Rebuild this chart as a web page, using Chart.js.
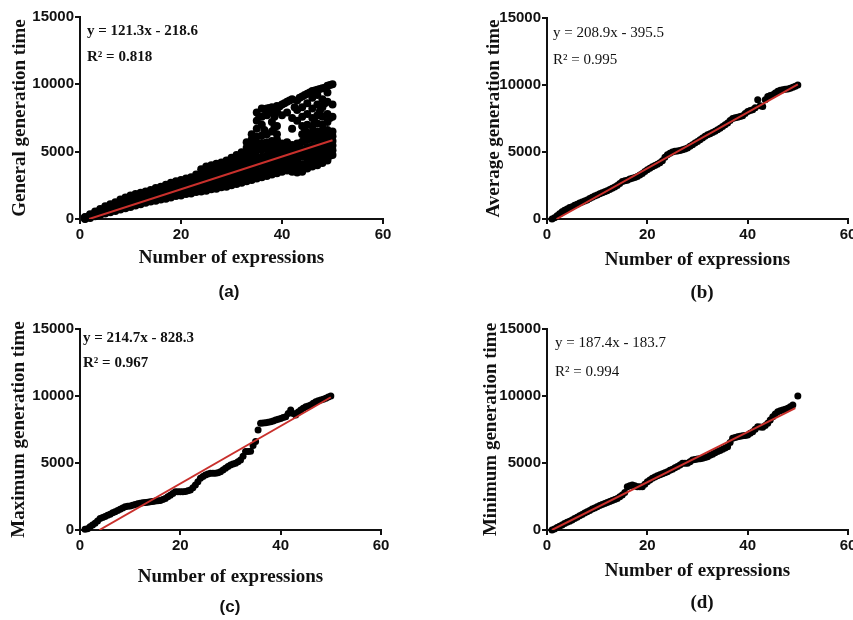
<!DOCTYPE html>
<html>
<head>
<meta charset="utf-8">
<script src="https://cdn.jsdelivr.net/npm/chart.js@4.4.0/dist/chart.umd.min.js"></script>
<style>
    body { margin: 0; width: 853px; height: 620px; overflow: hidden; background: #fff; position: relative; }
    canvas { position: absolute; }
    .tag { position: absolute; transform: translate(-50%, -50%); color: #111; white-space: nowrap; }
    .tag.sans { font: bold 17px 'Liberation Sans', Arial, sans-serif; }
    .tag.serif { font: bold 19px 'Liberation Serif', 'Times New Roman', serif; }
</style>
</head>
<body>
<canvas id="chartA" width="427" height="300" style="left:0;top:0"></canvas>
<canvas id="chartB" width="400" height="300" style="left:467px;top:0"></canvas>
<canvas id="chartC" width="427" height="320" style="left:0;top:300px"></canvas>
<canvas id="chartD" width="400" height="320" style="left:467px;top:300px"></canvas>
<div class="tag sans" style="left:229px;top:292px">(a)</div>
<div class="tag serif" style="left:702px;top:292px">(b)</div>
<div class="tag sans" style="left:230px;top:607px">(c)</div>
<div class="tag serif" style="left:702px;top:602px">(d)</div>
<script>
// --- Data ---
// x values for panels (b), (c), (d)
const exprSteps = [1, 1.5, 2, 2.5, 3, 3.5, 4, 4.5, 5, 5.5, 6, 6.5, 7, 7.5, 8, 8.5, 9, 9.5, 10, 10.5,
    11, 11.5, 12, 12.5, 13, 13.5, 14, 14.5, 15, 15.5, 16, 16.5, 17, 17.5, 18, 18.5, 19, 19.5, 20, 20.5,
    21, 21.5, 22, 22.5, 23, 23.5, 24, 24.5, 25, 25.5, 26, 26.5, 27, 27.5, 28, 28.5, 29, 29.5, 30, 30.5,
    31, 31.5, 32, 32.5, 33, 33.5, 34, 34.5, 35, 35.5, 36, 36.5, 37, 37.5, 38, 38.5, 39, 39.5, 40, 40.5,
    41, 41.5, 42, 42.5, 43, 43.5, 44, 44.5, 45, 45.5, 46, 46.5, 47, 47.5, 48, 48.5, 49, 49.5, 50];

// x values for panel (a)
const exprWhole = [1, 2, 3, 4, 5, 6, 7, 8, 9, 10, 11, 12, 13, 14, 15, 16, 17, 18, 19, 20,
    21, 22, 23, 24, 25, 26, 27, 28, 29, 30, 31, 32, 33, 34, 35, 36, 37, 38, 39, 40,
    41, 42, 43, 44, 45, 46, 47, 48, 49, 50];

// (a) general generation time: dense band, bottom to top
const genBand1 = [0, 80, 200, 300, 400, 500, 600, 700, 800, 900, 1000, 1100, 1200, 1300, 1350, 1450, 1500, 1600, 1700, 1750,
    1850, 1900, 2000, 2050, 2100, 2200, 2250, 2350, 2400, 2500, 2600, 2700, 2800, 2900, 3000, 3100, 3200, 3300, 3400, 3500,
    3600, 3500, 3450, 3500, 3750, 3900, 4000, 4150, 4350, 4750];
const genBand2 = [30, 134, 270, 390, 510, 620, 730, 850, 960, 1070, 1170, 1270, 1370, 1470, 1540, 1640, 1710, 1820, 1920, 1980,
    2080, 2140, 2260, 2380, 2460, 2560, 2620, 2720, 2790, 2910, 3030, 3150, 3300, 3410, 3520, 3610, 3700, 3800, 3900, 3920,
    4020, 3900, 3880, 4060, 4280, 4410, 4500, 4630, 4800, 5100];
const genBand3 = [60, 188, 340, 480, 620, 740, 860, 1000, 1120, 1240, 1340, 1440, 1540, 1640, 1730, 1830, 1920, 2040, 2140, 2210,
    2310, 2380, 2520, 2710, 2820, 2920, 2990, 3090, 3180, 3320, 3460, 3600, 3800, 3920, 4040, 4120, 4200, 4300, 4400, 4340,
    4440, 4300, 4310, 4620, 4810, 4920, 5000, 5110, 5250, 5450];
const genBand4 = [90, 242, 410, 570, 730, 860, 990, 1150, 1280, 1410, 1510, 1610, 1710, 1810, 1920, 2020, 2130, 2260, 2360, 2440,
    2540, 2620, 2780, 3040, 3180, 3280, 3360, 3460, 3570, 3730, 3890, 4050, 4300, 4430, 4560, 4630, 4700, 4800, 4900, 4760,
    4860, 4700, 4740, 5180, 5340, 5430, 5500, 5590, 5700, 5800];
const genBand5 = [120, 296, 480, 660, 840, 980, 1120, 1300, 1440, 1580, 1680, 1780, 1880, 1980, 2110, 2210, 2340, 2480, 2580, 2670,
    2770, 2860, 3040, 3370, 3540, 3640, 3730, 3830, 3960, 4140, 4320, 4500, 4800, 4940, 5080, 5140, 5200, 5300, 5400, 5180,
    5280, 5100, 5170, 5740, 5870, 5940, 6000, 6070, 6150, 6150];
const genBand6 = [150, 350, 550, 750, 950, 1100, 1250, 1450, 1600, 1750, 1850, 1950, 2050, 2150, 2300, 2400, 2550, 2700, 2800, 2900,
    3000, 3100, 3300, 3700, 3900, 4000, 4100, 4200, 4350, 4550, 4750, 4950, 5300, 5450, 5600, 5650, 5700, 5800, 5900, 5600,
    5700, 5500, 5600, 6300, 6400, 6450, 6500, 6550, 6600, 6500];
// (a) extra runs between the whole-number columns (x + 0.5)
const genHalfX = [24.5, 25.5, 26.5, 27.5, 28.5, 29.5, 30.5, 31.5, 32.5, 33.5, 34.5, 35.5, 36.5, 37.5, 38.5, 39.5,
    40.5, 41.5, 42.5, 43.5, 44.5, 45.5, 46.5, 47.5, 48.5, 49.5];
const genHalfLow = [2300, 2350, 2450, 2500, 2600, 2650, 2750, 2850, 2950, 3050, 3150, 3250, 3350, 3450, 3550, 3650,
    3750, 3800, 3700, 3650, 3800, 4000, 4150, 4250, 4450, 4700];
const genHalfMid = [3000, 3100, 3250, 3300, 3400, 3500, 3650, 3800, 3950, 4100, 4250, 4350, 4450, 4550, 4650, 4700,
    4750, 4800, 4750, 4800, 5000, 5100, 5200, 5300, 5450, 5550];
const genHalfHigh = [3550, 3750, 3850, 3950, 4050, 4250, 4450, 4650, 4900, 5100, 5300, 5450, 5500, 5550, 5600, 5550,
    5450, 5400, 5350, 5600, 5950, 6100, 6200, 6250, 6300, 6350];
// (a) scattered upper cluster
const genUpper = [[33, 5700], [34, 5900], [34, 6300],
    [35, 6100], [35, 6700], [35, 7300], [35, 7900],
    [36, 6200], [36, 7000], [36, 7600], [36, 8200],
    [37, 6300], [37, 7700], [37, 8200],
    [38, 6500], [38, 7200], [38, 7900], [38, 8300],
    [39, 6300], [39, 6900], [39, 8000], [39, 8400],
    [40, 7700], [40, 8500], [41, 7900], [41, 8700],
    [42, 6700], [42, 7500], [42, 8900],
    [43, 7300], [43, 8100], [43, 8800],
    [44, 6900], [44, 7600], [44, 8300], [44, 9100],
    [45, 7000], [45, 7800], [45, 8600], [45, 9300],
    [46, 6900], [46, 7500], [46, 8200], [46, 9000], [46, 9500],
    [47, 7100], [47, 7700], [47, 8500], [47, 9200], [47, 9600],
    [48, 7000], [48, 7600], [48, 8300], [48, 8900], [48, 9700],
    [49, 7200], [49, 7800], [49, 8700], [49, 9400], [49, 9900],
    [50, 7600], [50, 8500], [50, 10000],
    [35.5, 7600], [36.5, 8150], [37.5, 8250], [38.5, 7600], [39.5, 8350], [40.5, 8600],
    [41.5, 8800], [42.5, 8300], [43.5, 9000], [44.5, 9200], [45.5, 9400], [46.5, 9550],
    [47.5, 9650], [48.5, 9750], [49.5, 9950], [36.5, 6600], [38.5, 6800], [44.5, 6700],
    [46.5, 7200], [47.5, 8000], [48.5, 8600], [49.5, 7500]];

// (b) average generation time
const avgTime = [0, 100, 250, 400, 550, 650, 750, 850, 920, 1020,
    1100, 1200, 1270, 1350, 1420, 1530, 1620, 1720, 1800, 1880,
    1950, 2030, 2100, 2200, 2290, 2380, 2500, 2650, 2790, 2850,
    2900, 2980, 3050, 3100, 3170, 3280, 3400, 3550, 3670, 3780,
    3900, 4000, 4090, 4200, 4350, 4600, 4790, 4900, 5000, 5050,
    5080, 5120, 5160, 5220, 5290, 5420, 5550, 5670, 5790, 5920,
    6050, 6170, 6280, 6370, 6450, 6550, 6660, 6780, 6900, 7030,
    7160, 7350, 7500, 7560, 7600, 7650, 7710, 7880, 8030, 8090,
    8150, 8300, 8900, 8450, 8400, 8900, 9150, 9220, 9280, 9400,
    9530, 9600, 9650, 9680, 9700, 9760, 9830, 9900, 10000];

// (c) maximum generation time
const maxTime = [50, 100, 250, 380, 500, 680, 850, 930, 1000, 1100,
    1180, 1280, 1370, 1450, 1550, 1650, 1740, 1780, 1800, 1850,
    1900, 1950, 2000, 2030, 2050, 2080, 2100, 2130, 2160, 2180,
    2200, 2280, 2360, 2480, 2600, 2730, 2850, 2860, 2860, 2850,
    2870, 2920, 2990, 3150, 3360, 3600, 3860, 4000, 4100, 4180,
    4230, 4230, 4230, 4280, 4350, 4480, 4600, 4730, 4850, 4920,
    4980, 5100, 5220, 5500, 5850, 5850, 5870, 6300, 6600, 7460,
    7960, 7980, 8000, 8040, 8080, 8140, 8200, 8260, 8330, 8400,
    8460, 8700, 8950, 8700, 8580, 8800, 8950, 9080, 9200, 9260,
    9330, 9450, 9580, 9640, 9700, 9760, 9830, 9920, 10000];

// (d) minimum generation time
const minTime = [0, 80, 180, 280, 380, 480, 580, 660, 750, 850,
    950, 1060, 1160, 1270, 1370, 1460, 1560, 1650, 1740, 1820,
    1900, 1980, 2060, 2130, 2200, 2280, 2360, 2480, 2620, 2790,
    3230, 3300, 3360, 3300, 3230, 3230, 3230, 3420, 3600, 3730,
    3860, 3950, 4050, 4130, 4200, 4280, 4350, 4450, 4540, 4640,
    4730, 4850, 4975, 4975, 4975, 5100, 5220, 5260, 5300, 5320,
    5350, 5410, 5470, 5570, 5660, 5760, 5850, 5940, 6020, 6120,
    6220, 6530, 6840, 6900, 6965, 7000, 7030, 7060, 7090, 7220,
    7340, 7520, 7710, 7690, 7660, 7800, 7960, 8200, 8460, 8650,
    8830, 8900, 8950, 9010, 9080, 9200, 9330, null, 10000];

// fitted lines (end points of the printed regression)
const fitA = [[1.8, 0], [50, 5846]];
const fitB = [[1.9, 0], [50, 10050]];
const fitC = [[3.86, 0], [50, 9907]];
const fitD = [[0.98, 0], [49.5, 9093]];

const eqA = ['y = 121.3x - 218.6', 'R\u00b2 = 0.818'];
const eqB = ['y = 208.9x - 395.5', 'R\u00b2 = 0.995'];
const eqC = ['y = 214.7x - 828.3', 'R\u00b2 = 0.967'];
const eqD = ['y = 187.4x - 183.7', 'R\u00b2 = 0.994'];

const yTicks = [0, 5000, 10000, 15000];
const xTicks = [0, 20, 40, 60];

// --- helpers ---
const toPoints = (xs, ys) => xs.map((x, i) => (ys[i] == null ? null : { x: x, y: ys[i] })).filter(p => p);
const pairPoints = (pairs) => pairs.map(p => ({ x: p[0], y: p[1] }));

const equationPlugin = {
    id: 'equation',
    afterDatasetsDraw(chart, args, opts) {
        const { ctx, chartArea } = chart;
        ctx.save();
        ctx.font = opts.font;
        ctx.fillStyle = '#111';
        ctx.textBaseline = 'middle';
        opts.lines.forEach((t, i) => ctx.fillText(t, chartArea.left + opts.dx, chartArea.top + opts.dy[i]));
        ctx.restore();
    }
};

const dotSet = (pts, r) => ({
    type: 'scatter',
    data: pts,
    backgroundColor: '#000',
    borderWidth: 0,
    pointRadius: r,
    pointHoverRadius: r,
    clip: false,
    order: 1
});

const fitSet = (pairs) => ({
    type: 'scatter',
    data: pairPoints(pairs),
    showLine: true,
    borderColor: '#c9302c',
    borderWidth: 2,
    pointRadius: 0,
    order: 0
});

const makeChart = (id, p) => {
    const ctx = document.getElementById(id).getContext('2d');
    const tickFont = { family: "'Liberation Sans', Arial, sans-serif", size: 15, weight: 'bold' };
    const titleFont = { family: "'Liberation Serif', 'Times New Roman', serif", size: 19, weight: 'bold' };
    return new Chart(ctx, {
        type: 'scatter',
        data: { datasets: [fitSet(p.fit)].concat(p.sets) },
        plugins: [equationPlugin],
        options: {
            responsive: false,
            animation: false,
            events: [],
            layout: { padding: p.pad },
            plugins: {
                legend: { display: false },
                tooltip: { enabled: false },
                equation: p.eq
            },
            scales: {
                x: {
                    type: 'linear', min: 0, max: 60,
                    afterBuildTicks: s => { s.ticks = xTicks.map(v => ({ value: v })); },
                    ticks: { color: '#111', font: tickFont, padding: 2, maxRotation: 0, callback: v => String(v) },
                    grid: { drawOnChartArea: false, tickLength: 5, color: '#111', lineWidth: 2 },
                    border: { color: '#111', width: 2 },
                    title: { display: true, text: 'Number of expressions', color: '#111', font: titleFont,
                        padding: { top: 0, bottom: p.xTitlePad } },
                    afterFit: s => { s.height = p.xHeight; }
                },
                y: {
                    type: 'linear', min: 0, max: 15000,
                    afterBuildTicks: s => { s.ticks = yTicks.map(v => ({ value: v })); },
                    ticks: { color: '#111', font: tickFont, padding: 1, callback: v => String(v) },
                    grid: { drawOnChartArea: false, tickLength: 5, color: '#111', lineWidth: 2 },
                    border: { color: '#111', width: 2 },
                    title: { display: true, text: p.yTitle, color: '#111', font: titleFont,
                        padding: { top: p.yTitlePad, bottom: 0 } },
                    afterFit: s => { s.width = 80; }
                }
            }
        }
    });
};

window.onload = () => {
    const bandSets = [genBand1, genBand2, genBand3, genBand4, genBand5, genBand6]
        .map(b => dotSet(toPoints(exprWhole, b), 4));
    [genHalfLow, genHalfMid, genHalfHigh].forEach(b => bandSets.push(dotSet(toPoints(genHalfX, b), 4)));
    bandSets.push(dotSet(pairPoints(genUpper), 4));

    makeChart('chartA', {
        sets: bandSets, fit: fitA, yTitle: 'General generation time',
        pad: { top: 17, right: 44, bottom: 0, left: 0 }, xHeight: 81, xTitlePad: 31, yTitlePad: 9,
        eq: { lines: eqA, font: "bold 15px 'Liberation Serif', serif", dx: 7, dy: [14, 40] }
    });
    makeChart('chartB', {
        sets: [dotSet(toPoints(exprSteps, avgTime), 3.5)], fit: fitB, yTitle: 'Average generation time',
        pad: { top: 18, right: 19, bottom: 0, left: 0 }, xHeight: 81, xTitlePad: 29, yTitlePad: 16,
        eq: { lines: eqB, font: "15px 'Liberation Serif', serif", dx: 6, dy: [15, 42] }
    });
    makeChart('chartC', {
        sets: [dotSet(toPoints(exprSteps, maxTime), 3.5)], fit: fitC, yTitle: 'Maximum generation time',
        pad: { top: 29, right: 46, bottom: 0, left: 0 }, xHeight: 90, xTitlePad: 32, yTitlePad: 8,
        eq: { lines: eqC, font: "bold 15px 'Liberation Serif', serif", dx: 3, dy: [9, 34] }
    });
    makeChart('chartD', {
        sets: [dotSet(toPoints(exprSteps, minTime), 3.5)], fit: fitD, yTitle: 'Minimum generation time',
        pad: { top: 29, right: 19, bottom: 0, left: 0 }, xHeight: 90, xTitlePad: 38, yTitlePad: 13,
        eq: { lines: eqD, font: "15px 'Liberation Serif', serif", dx: 8, dy: [14, 43] }
    });
};
</script>
</body>
</html>
